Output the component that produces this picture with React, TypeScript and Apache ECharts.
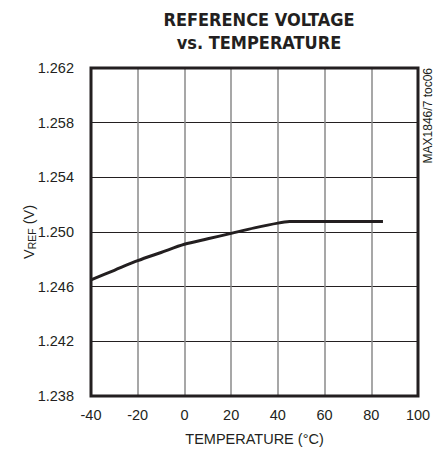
import React, { useEffect, useRef } from "react";
import * as echarts from "echarts";

const temperatures = [-40, -30, -20, -10, 0, 10, 20, 30, 40, 45, 50, 60, 70, 80, 85];
const vref = [1.2465, 1.2472, 1.2479, 1.2485, 1.2491, 1.2495, 1.2499, 1.2503, 1.25065, 1.25076, 1.25077, 1.25077, 1.25077, 1.25077, 1.25077];
const xTicks = [-40, -20, 0, 20, 40, 60, 80, 100];
const yTicks = [1.238, 1.242, 1.246, 1.25, 1.254, 1.258, 1.262];

const FONT = "'Liberation Sans', Arial, sans-serif";
const TITLE_FONT = "'DejaVu Sans Condensed', 'Liberation Sans', sans-serif";
const INK = "#231f20";

export default function App() {
  const ref = useRef<HTMLDivElement>(null);
  useEffect(() => {
    if (!ref.current) return;
    const chart = echarts.init(ref.current, null, { renderer: "svg" });
    chart.setOption({
      animation: false,
      backgroundColor: "#ffffff",
      title: {
        text: "REFERENCE VOLTAGE\nvs. TEMPERATURE",
        left: 254,
        top: 3,
        textAlign: "center",
        textStyle: {
          fontFamily: TITLE_FONT,
          fontWeight: "bold",
          fontSize: 18,
          lineHeight: 23,
          color: INK,
        },
      },
      grid: { left: 91, top: 68, width: 327, height: 328, containLabel: false },
      xAxis: {
        type: "value",
        min: -40,
        max: 100,
        interval: 20,
        name: "TEMPERATURE (°C)",
        nameLocation: "middle",
        nameGap: 35,
        nameMoveOverlap: false,
        nameTextStyle: { fontFamily: FONT, fontSize: 14.5, color: INK },
        axisLine: { show: false },
        axisTick: { show: false },
        axisLabel: {
          fontFamily: FONT,
          fontSize: 14.5,
          color: INK,
          margin: 11,
          formatter: (v: number) => (xTicks.includes(v) ? String(v) : ""),
        },
        splitLine: { show: true, lineStyle: { color: "#8a8a8a", width: 1.5 } },
      },
      yAxis: {
        type: "value",
        min: 1.238,
        max: 1.262,
        interval: 0.004,
        name: "{v|V}{s|REF}{v| (V)}",
        nameLocation: "middle",
        nameGap: 54,
        nameMoveOverlap: false,
        nameRotate: 90,
        nameTextStyle: {
          rich: {
            v: { fontFamily: FONT, fontSize: 14.5, color: INK },
            s: { fontFamily: FONT, fontSize: 10.5, color: INK, verticalAlign: "bottom", padding: [6, 0, 0, 0] },
          },
        },
        axisLine: { show: false },
        axisTick: { show: false },
        axisLabel: {
          fontFamily: FONT,
          fontSize: 14.5,
          color: INK,
          margin: 17,
          formatter: (v: number) => {
            const t = yTicks.find((y) => Math.abs(y - v) < 1e-6);
            return t !== undefined ? t.toFixed(3) : "";
          },
        },
        splitLine: { show: true, lineStyle: { color: INK, width: 1 } },
      },
      graphic: [
        {
          type: "rect",
          shape: { x: 91, y: 68, width: 327, height: 328 },
          style: { fill: "none", stroke: INK, lineWidth: 3 },
          z: 100,
        },
        {
          type: "text",
          x: 428,
          y: 68,
          rotation: Math.PI / 2,
          style: {
            text: "MAX1846/7 toc06",
            fontFamily: FONT,
            fontSize: 12,
            fill: INK,
            textAlign: "right",
            textVerticalAlign: "middle",
          },
        },
      ],
      series: [
        {
          type: "line",
          data: temperatures.map((t, i) => [t, vref[i]]),
          showSymbol: false,
          smooth: 0.3,
          lineStyle: { color: INK, width: 3 },
          z: 10,
        },
      ],
    });
    return () => chart.dispose();
  }, []);
  return <div ref={ref} style={{ position: "fixed", left: 0, top: 0, width: 441, height: 453 }} />;
}
